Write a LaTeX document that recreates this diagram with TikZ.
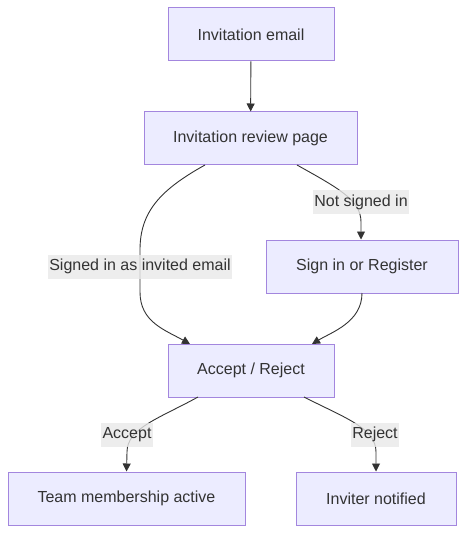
\documentclass[tikz,border=0pt]{standalone}
\usepackage{fontspec}
\setmainfont{Liberation Sans}
\usetikzlibrary{arrows.meta}
\definecolor{nodefill}{HTML}{ECECFF}
\definecolor{nodeline}{HTML}{A386DE}
\definecolor{edgecol}{HTML}{333333}
\definecolor{labelbg}{HTML}{E8E8E8}
\definecolor{txt}{HTML}{333333}
\tikzset{
  box/.style={draw=nodeline, fill=nodefill, line width=1pt, inner sep=0pt,
    minimum height=53pt, text=txt, font=\fontsize{16}{19}\selectfont},
  elabel/.style={fill=labelbg, fill opacity=0.8, text opacity=1, inner sep=1.5pt,
    minimum height=24pt, text=txt, font=\fontsize{16}{19}\selectfont},
  conn/.style={draw=edgecol, line width=0.9pt, -{Triangle[length=8pt,width=8pt]}},
  seg/.style={draw=edgecol, line width=0.9pt}
}
\begin{document}
\begin{tikzpicture}[x=1pt,y=-1pt]
\useasboundingbox (0,0) rectangle (466,534);
\node[box, minimum width=166pt] (email) at (251,34.5) {Invitation email};
\node[box, minimum width=213pt] (review) at (250.5,138.5) {Invitation review page};
\node[box, minimum width=192pt] (signin) at (362,266.5) {Sign in or Register};
\node[box, minimum width=166pt] (accept) at (251,370.5) {Accept / Reject};
\node[box, minimum width=237pt] (team) at (126.5,498.5) {Team membership active};
\node[box, minimum width=160pt] (notified) at (376,498.5) {Inviter notified};

\coordinate (r1) at (205,165);
\coordinate (r2) at (297,165);
\coordinate (a1) at (190,344);
\coordinate (a2) at (312,344);
\coordinate (s1) at (362,293);
\coordinate (b1) at (198,397);
\coordinate (b2) at (304,397);

\draw[conn] (email) -- (review);
\draw[conn] (r1) .. controls (160,190) and (140,212) .. (140,250) -- (140,292) .. controls (140,322) and (165,330) .. (a1);
\draw[conn] (r2) .. controls (338,188) and (361,200) .. (361,222) -- (signin.north -| 361,0);
\draw[conn] (s1) .. controls (362,322) and (332,332) .. (a2);
\draw[conn] (b1) .. controls (160,418) and (127,428) .. (127,452) -- (team.north);
\draw[conn] (b2) .. controls (345,418) and (376,428) .. (376,452) -- (notified.north);

\node[elabel] (l1) at (140,266.5) {Signed in as invited email};
\node[elabel] (l2) at (361,202) {Not signed in};
\node[elabel] (l3) at (127,434.5) {Accept};
\node[elabel] (l4) at (375,434.5) {Reject};
\end{tikzpicture}
\end{document}
